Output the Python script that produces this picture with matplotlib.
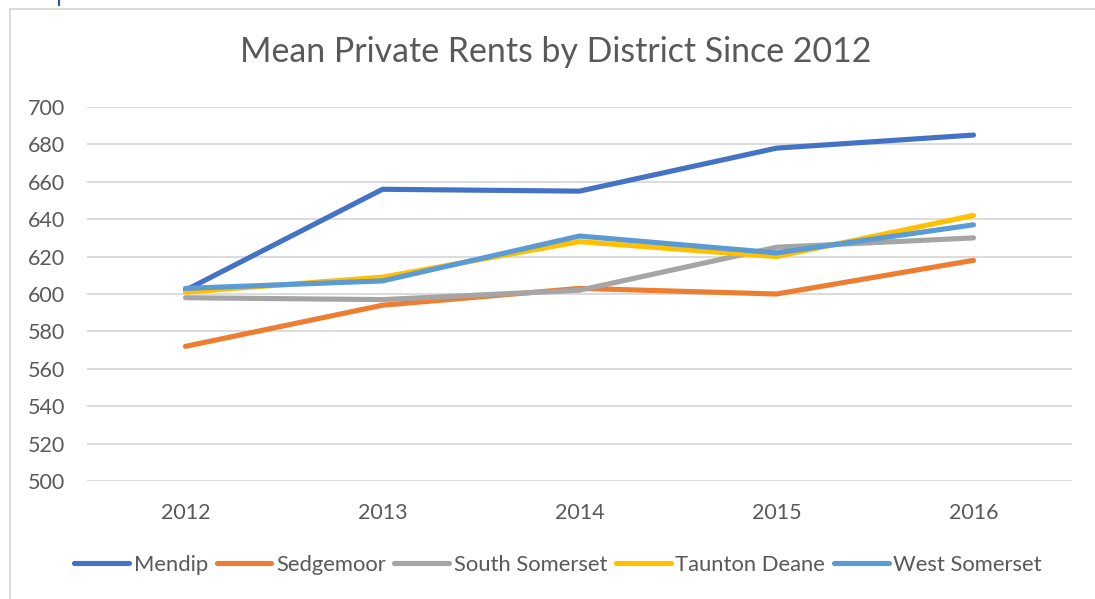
import matplotlib
matplotlib.use("Agg")
import matplotlib.pyplot as plt
from matplotlib.lines import Line2D

# Datos
years = ["2012", "2013", "2014", "2015", "2016"]
mendip = [602, 656, 655, 678, 685]
sedgemoor = [572, 594, 603, 600, 618]
south_somerset = [598, 597, 602, 625, 630]
taunton_deane = [601, 609, 628, 620, 642]
west_somerset = [603, 607, 631, 622, 637]

series = [
    ("Mendip", mendip, "#4472C4"),
    ("Sedgemoor", sedgemoor, "#ED7D31"),
    ("South Somerset", south_somerset, "#A5A5A5"),
    ("Taunton Deane", taunton_deane, "#FFC000"),
    ("West Somerset", west_somerset, "#5B9BD5"),
]
y_ticks = list(range(500, 701, 20))

plt.rcParams['font.family'] = ['Lato', 'DejaVu Sans']
text_color = '#595959'
grid_color = '#d9d9d9'

W, H = 1095, 599
fig = plt.figure(figsize=(W / 100, H / 100), dpi=100, facecolor='white')
ax = fig.add_axes([87 / W, 1 - 481 / H, (1072 - 87) / W, (481 - 107) / H])

x = list(range(len(years)))
for name, vals, col in series:
    ax.plot(x, vals, color=col, linewidth=3.7, solid_capstyle='round',
            solid_joinstyle='round', label=name, zorder=3)

ax.set_xlim(-0.5, len(years) - 0.5)
ax.set_ylim(500, 700)
ax.set_yticks(y_ticks)
ax.set_xticks(x)
ax.set_xticklabels(years)
ax.grid(axis='y', color=grid_color, linewidth=1.3, zorder=0)
ax.set_axisbelow(True)
for s in ax.spines.values():
    s.set_visible(False)
ax.tick_params(axis='both', length=0, colors=text_color, labelsize=15.5)
ax.tick_params(axis='y', pad=16)
ax.tick_params(axis='x', pad=16)

# Título
fig.text(556 / W, 1 - 62 / H, "Mean Private Rents by District Since 2012",
         ha='center', va='baseline', fontsize=24.4, color=text_color)

# Leyenda
leg = fig.legend(loc='center', bbox_to_anchor=(558 / W, 1 - 565 / H), ncol=5,
                 frameon=False, fontsize=15.8, handlelength=2.5,
                 handletextpad=0.2, columnspacing=0.4, labelcolor=text_color)
for h in leg.get_lines():
    h.set_linewidth(3.7)

# Borde del área del gráfico
fig.add_artist(Line2D([10 / W, 1], [1 - 9 / H, 1 - 9 / H], color=grid_color, linewidth=1.3))
fig.add_artist(Line2D([10 / W, 10 / W], [0, 1 - 9 / H], color=grid_color, linewidth=1.3))
fig.add_artist(Line2D([59 / W, 59 / W], [1, 1 - 5 / H], color='#2F5597', linewidth=1.5))

fig.savefig("out.png", dpi=100, facecolor='white')
